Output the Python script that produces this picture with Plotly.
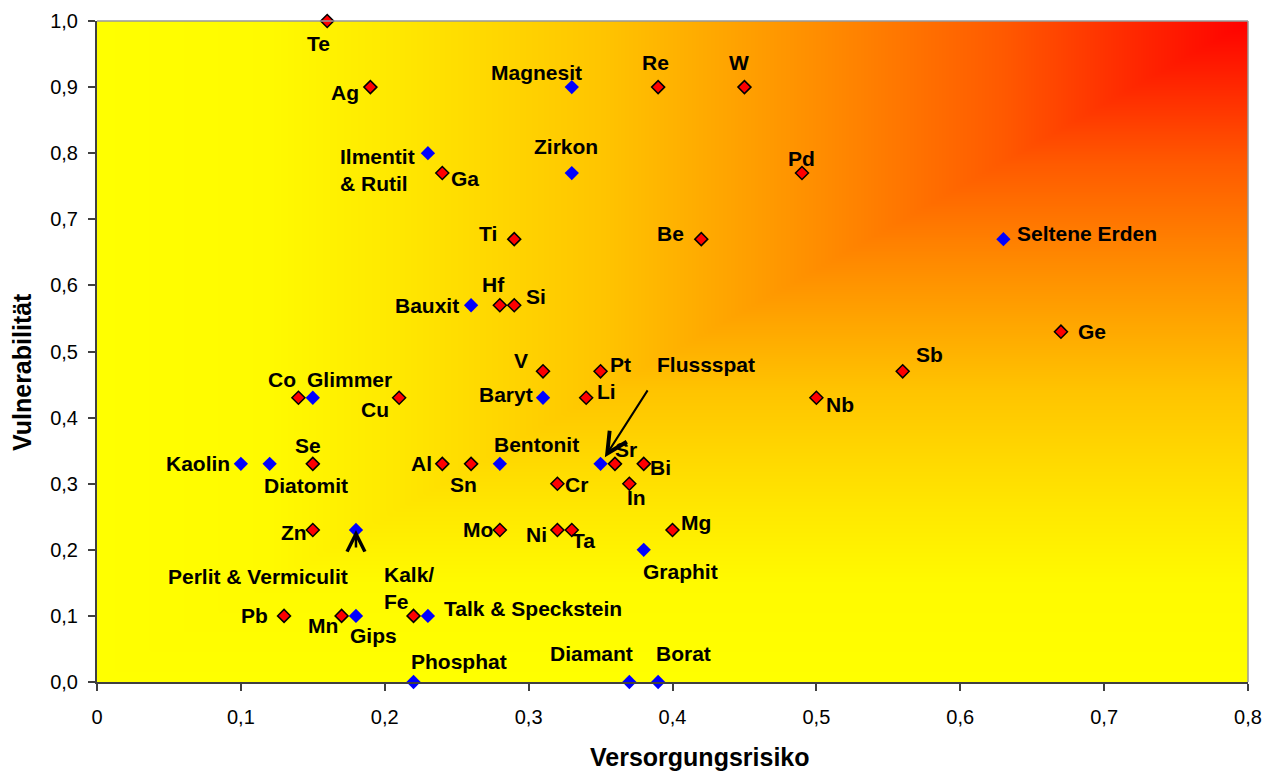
import numpy as np
import plotly.graph_objects as go

# ---------------- data ----------------
metal_names = ["Te", "Ag", "Re", "W", "Ga", "Pd", "Ti", "Be", "Hf", "Si", "Ge", "V", "Pt", "Sb",
               "Co", "Cu", "Li", "Nb", "Se", "Al", "Sn", "Sr", "Bi", "Cr", "In", "Zn", "Mo",
               "Ni", "Ta", "Mg", "Pb", "Mn", "Kalk/<br>Fe"]
metal_x = [0.16, 0.19, 0.39, 0.45, 0.24, 0.49, 0.29, 0.42, 0.28, 0.29, 0.67, 0.31, 0.35, 0.56,
           0.14, 0.21, 0.34, 0.50, 0.15, 0.24, 0.26, 0.36, 0.38, 0.32, 0.37, 0.15, 0.28,
           0.32, 0.33, 0.40, 0.13, 0.17, 0.22]
metal_y = [1.00, 0.90, 0.90, 0.90, 0.77, 0.77, 0.67, 0.67, 0.57, 0.57, 0.53, 0.47, 0.47, 0.47,
           0.43, 0.43, 0.43, 0.43, 0.33, 0.33, 0.33, 0.33, 0.33, 0.30, 0.30, 0.23, 0.23,
           0.23, 0.23, 0.23, 0.10, 0.10, 0.10]

mineral_names = ["Magnesit", "Ilmentit<br>& Rutil", "Zirkon", "Seltene Erden", "Bauxit", "Glimmer",
                 "Baryt", "Kaolin", "Diatomit", "Bentonit", "Flussspat", "Perlit & Vermiculit",
                 "Graphit", "Gips", "Talk & Speckstein", "Phosphat", "Diamant", "Borat"]
mineral_x = [0.33, 0.23, 0.33, 0.63, 0.26, 0.15, 0.31, 0.10, 0.12, 0.28, 0.35, 0.18,
             0.38, 0.18, 0.23, 0.22, 0.37, 0.39]
mineral_y = [0.90, 0.80, 0.77, 0.67, 0.57, 0.43, 0.43, 0.33, 0.33, 0.33, 0.33, 0.23,
             0.20, 0.10, 0.10, 0.00, 0.00, 0.00]

x_tick_vals = [0, 0.1, 0.2, 0.3, 0.4, 0.5, 0.6, 0.7, 0.8]
x_tick_text = ["0", "0,1", "0,2", "0,3", "0,4", "0,5", "0,6", "0,7", "0,8"]
y_tick_vals = [0.0, 0.1, 0.2, 0.3, 0.4, 0.5, 0.6, 0.7, 0.8, 0.9, 1.0]
y_tick_text = ["0,0", "0,1", "0,2", "0,3", "0,4", "0,5", "0,6", "0,7", "0,8", "0,9", "1,0"]

# ---------------- label placement (style: pixel offsets) ----------------
# name: (xshift, yshift, xanchor)
label_style = {
    "Te": (-9, -22, "center"), "Ag": (-25, -5, "center"), "Re": (-3, 25, "center"),
    "W": (-5, 25, "center"), "Ga": (23, -5, "center"), "Pd": (0, 15, "center"),
    "Ti": (-26, 6, "center"), "Be": (-31, 6, "center"), "Hf": (-6, 21, "center"),
    "Si": (22, 9, "center"), "Ge": (15, 0, "left"), "V": (-22, 11, "center"),
    "Pt": (20, 7, "center"), "Sb": (27, 17, "center"), "Co": (-16, 18, "center"),
    "Cu": (-24, -12, "center"), "Li": (20, 6, "center"), "Nb": (24, -7, "center"),
    "Se": (-5, 18, "center"), "Al": (-21, 0, "center"), "Sn": (-8, -21, "center"),
    "Sr": (11, 14, "center"), "Bi": (17, -4, "center"), "Cr": (19, -1, "center"),
    "In": (7, -14, "center"), "Zn": (-19, -3, "center"), "Mo": (-22, 0, "center"),
    "Ni": (-21, -5, "center"), "Ta": (12, -11, "center"), "Mg": (23, 7, "center"),
    "Pb": (-30, 0, "center"), "Mn": (-19, -10, "center"), "Kalk/<br>Fe": (-32, 28, "left"),
    "Magnesit": (-35, 15, "center"), "Ilmentit<br>& Rutil": (-90, -17, "left"),
    "Zirkon": (-6, 27, "center"), "Seltene Erden": (12, 6, "left"),
    "Bauxit": (-10, 0, "right"), "Glimmer": (-8, 18, "left"), "Baryt": (-8, 3, "right"),
    "Kaolin": (-9, 0, "right"), "Diatomit": (36, -22, "center"),
    "Bentonit": (37, 19, "center"), "Flussspat": (105, 99, "center"),
    "Perlit & Vermiculit": (-98, -47, "center"), "Graphit": (37, -22, "center"),
    "Gips": (18, -20, "center"), "Talk & Speckstein": (14, 7, "left"),
    "Phosphat": (45, 21, "center"), "Diamant": (-38, 29, "center"), "Borat": (25, 29, "center"),
}

FONT = "Arial, 'Liberation Sans', sans-serif"

fig = go.Figure()

# ---------------- background gradient (from top-right corner) ----------------
gx = np.linspace(0, 0.8, 161)
gy = np.linspace(0, 1.0, 201)
GX, GY = np.meshgrid(gx, gy)
T = np.maximum((0.8 - GX) / 0.8, (1.0 - GY) / 1.0)
colorscale = [
    [0.0, "rgb(255,0,0)"], [0.1, "rgb(255,40,0)"], [0.215, "rgb(255,90,0)"],
    [0.37, "rgb(255,140,0)"], [0.56, "rgb(255,196,0)"], [0.74, "rgb(255,232,0)"],
    [0.85, "rgb(255,250,0)"], [1.0, "rgb(255,255,0)"],
]
fig.add_trace(go.Heatmap(x=gx, y=gy, z=T, colorscale=colorscale, zmin=0, zmax=1,
                         zsmooth="best", showscale=False, hoverinfo="skip"))

# ---------------- markers ----------------
fig.add_trace(go.Scatter(
    x=mineral_x, y=mineral_y, mode="markers", cliponaxis=False,
    marker=dict(symbol="diamond", size=11, color="#0000FF", line=dict(width=0)),
    hovertext=mineral_names, hoverinfo="text+x+y"))
fig.add_trace(go.Scatter(
    x=metal_x, y=metal_y, mode="markers", cliponaxis=False,
    marker=dict(symbol="diamond", size=10, color="#FF0000", line=dict(width=1.5, color="#000000")),
    hovertext=metal_names, hoverinfo="text+x+y"))

# ---------------- labels ----------------
annotations = []
for names, xs, ys in ((metal_names, metal_x, metal_y), (mineral_names, mineral_x, mineral_y)):
    for n, xv, yv in zip(names, xs, ys):
        xs_, ys_, xa = label_style[n]
        annotations.append(dict(
            x=xv, y=yv, xref="x", yref="y", text=n, showarrow=False,
            xshift=xs_, yshift=ys_, xanchor=xa, yanchor="middle",
            align="left" if xa == "left" else "center",
            font=dict(family=FONT, size=21, color="#000000", weight="bold")))

# arrows
fl = mineral_names.index("Flussspat")
annotations.append(dict(x=mineral_x[fl], y=mineral_y[fl], xref="x", yref="y", text="",
                        showarrow=True, ax=48, ay=-75, arrowhead=5, arrowsize=2.0,
                        arrowwidth=2, arrowcolor="#000000", standoff=8))
pv = mineral_names.index("Perlit & Vermiculit")
annotations.append(dict(x=mineral_x[pv], y=mineral_y[pv], xref="x", yref="y", text="",
                        showarrow=True, ax=0, ay=19, arrowhead=5, arrowsize=1.4,
                        arrowwidth=2.5, arrowcolor="#000000", standoff=0))

# page is offset by the browser's default 8px body margin -> compensate
OFF = 8
W, H = 1275 - OFF, 771 - OFF
L, R, T_, B = 97 - OFF, 27, 21 - OFF, 89
pw, ph = W - L - R, H - T_ - B

def px_to_paper(px, py):
    return (px - OFF - L) / pw, (H - B - (py - OFF)) / ph

tx, ty = px_to_paper(700, 757)
annotations.append(dict(x=tx, y=ty, xref="paper", yref="paper", text="Versorgungsrisiko",
                        showarrow=False, xanchor="center", yanchor="middle",
                        font=dict(family=FONT, size=25, weight="bold", color="#000")))
tx, ty = px_to_paper(22, 372)
annotations.append(dict(x=tx, y=ty, xref="paper", yref="paper", text="Vulnerabilität",
                        showarrow=False, textangle=-90, xanchor="center", yanchor="middle",
                        font=dict(family=FONT, size=25, weight="bold", color="#000")))

fig.update_layout(
    width=W, height=H,
    margin=dict(l=L, r=R, t=T_, b=B, pad=0, autoexpand=False),
    paper_bgcolor="#FFFFFF", plot_bgcolor="#FFFF00",
    showlegend=False,
    annotations=annotations,
    font=dict(family=FONT, size=20, color="#000"),
    xaxis=dict(range=[0, 0.8], tickvals=x_tick_vals, ticktext=x_tick_text,
               showgrid=False, zeroline=False, showline=True, linecolor="#404040",
               linewidth=2, ticks="outside", ticklen=7, tickwidth=1.5, tickcolor="#404040",
               tickfont=dict(family=FONT, size=20, color="#000"), ticklabelstandoff=9,
               automargin=False, fixedrange=True),
    yaxis=dict(range=[0, 1.0], tickvals=y_tick_vals, ticktext=y_tick_text,
               showgrid=False, zeroline=False, showline=True, linecolor="#404040",
               linewidth=2, ticks="outside", ticklen=7, tickwidth=1.5, tickcolor="#404040",
               tickfont=dict(family=FONT, size=20, color="#000"), ticklabelstandoff=6,
               automargin=False, fixedrange=True),
    shapes=[
        dict(type="line", xref="paper", yref="paper", x0=0, x1=1, y0=1, y1=1,
             line=dict(color="#999999", width=1.5), layer="above"),
        dict(type="line", xref="paper", yref="paper", x0=1, x1=1, y0=0, y1=1,
             line=dict(color="#999999", width=1.5), layer="above"),
    ],
)

fig.write_html("out.html")
